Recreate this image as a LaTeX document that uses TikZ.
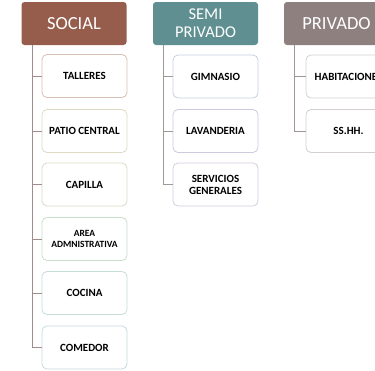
\documentclass[tikz,border=0pt]{standalone}
\usepackage{fontspec}
\setmainfont{Carlito}
\definecolor{socialc}{RGB}{151,93,76}
\definecolor{semic}{RGB}{95,143,145}
\definecolor{privc}{RGB}{143,128,128}
\definecolor{b1}{RGB}{217,192,182}
\definecolor{b2}{RGB}{222,218,195}
\definecolor{b3}{RGB}{214,221,198}
\definecolor{b4}{RGB}{200,221,202}
\definecolor{b5}{RGB}{198,221,216}
\definecolor{b6}{RGB}{198,218,222}
\definecolor{b7}{RGB}{198,206,222}
\definecolor{b8}{RGB}{206,202,222}
\definecolor{b9}{RGB}{214,202,222}
\definecolor{b10}{RGB}{212,206,206}
\definecolor{lsoc}{RGB}{160,140,138}
\definecolor{lsemi}{RGB}{155,155,155}
\definecolor{lpriv}{RGB}{160,150,150}
\begin{document}
\begin{tikzpicture}[x=1pt,y=-1pt,
  hdr/.style={rounded corners=3pt,minimum width=105pt,minimum height=43pt,inner sep=1pt,text=white,align=center,font=\fontsize{18.5}{18}\selectfont},
  item/.style={draw=#1,line width=0.8pt,fill=white,rounded corners=5pt,minimum width=85pt,minimum height=43pt,inner sep=1pt,align=center,font=\fontsize{11}{12}\selectfont\bfseries},
  conn/.style={draw=#1,line width=0.9pt}]
\useasboundingbox (0,0) rectangle (375,370);
\clip (0,0) rectangle (375,370);
% headers
\node[hdr,fill=socialc] (social) at (74,23.5) {SOCIAL};
\node[hdr,fill=semic,font=\fontsize{16.5}{18}\selectfont] (semi) at (205.5,23.5) {SEMI\\PRIVADO};
\node[hdr,fill=privc] (priv) at (336.5,23.5) {PRIVADO};
% social items
\node[item=b1] (talleres) at (84.5,76) {TALLERES};
\node[item=b2] (patio) at (84.5,131) {PATIO CENTRAL};
\node[item=b3] (capilla) at (84.5,184.5) {CAPILLA};
\node[item=b4,font=\fontsize{9.5}{10.5}\selectfont\bfseries] (area) at (84.5,239) {AREA\\ADMNISTRATIVA};
\node[item=b5] (cocina) at (84.5,293) {COCINA};
\node[item=b6] (comedor) at (84.5,347.5) {COMEDOR};
% semi items
\node[item=b7] (gim) at (215.5,76.5) {GIMNASIO};
\node[item=b8] (lav) at (215.5,131) {LAVANDERIA};
\node[item=b9] (serv) at (215.5,184.5) {SERVICIOS\\GENERALES};
% privado items
\node[item=b10] (hab) at (348.5,76.5) {HABITACIONES};
\node[item=b10] (sshh) at (348.5,131) {SS.HH.};
% connectors
\coordinate (sv) at (32,0);
\draw[conn=lsoc] (social.south -| sv) |- (comedor.west);
\foreach \n in {talleres,patio,capilla,area,cocina}
  \draw[conn=lsoc] (\n.west -| sv) -- (\n.west);
\coordinate (mv) at (163,0);
\draw[conn=lsemi] (semi.south -| mv) |- (serv.west);
\foreach \n in {gim,lav}
  \draw[conn=lsemi] (\n.west -| mv) -- (\n.west);
\coordinate (pv) at (294,0);
\draw[conn=lpriv] (priv.south -| pv) |- (sshh.west);
\draw[conn=lpriv] (hab.west -| pv) -- (hab.west);
\end{tikzpicture}
\end{document}
